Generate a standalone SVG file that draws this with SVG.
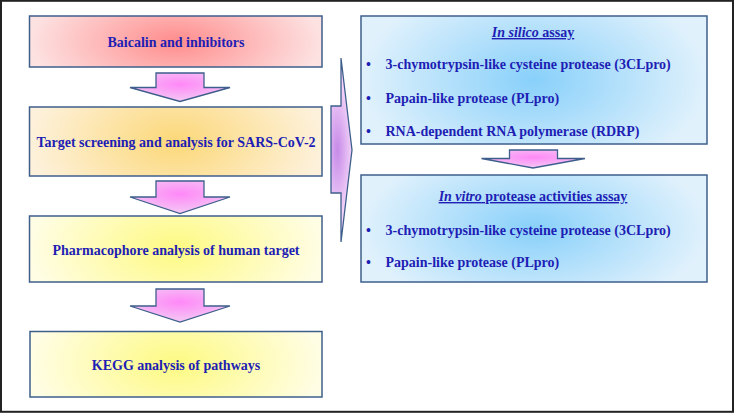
<svg xmlns="http://www.w3.org/2000/svg" width="735" height="414" viewBox="0 0 735 414">
<defs>
<radialGradient id="gPink" cx="0.5" cy="0.5" r="0.5" gradientTransform="translate(0.5 0.5) scale(1 2.5) translate(-0.5 -0.5)">
<stop offset="0" stop-color="#ff8c8c"/><stop offset="1" stop-color="#fde2e2"/></radialGradient>
<radialGradient id="gOrange" cx="0.5" cy="0.5" r="0.5" gradientTransform="translate(0.5 0.5) scale(1 2.5) translate(-0.5 -0.5)">
<stop offset="0" stop-color="#fcd878"/><stop offset="1" stop-color="#fdf1db"/></radialGradient>
<radialGradient id="gYellow" cx="0.5" cy="0.5" r="0.5" gradientTransform="translate(0.5 0.5) scale(1 2.5) translate(-0.5 -0.5)">
<stop offset="0" stop-color="#fdfa82"/><stop offset="1" stop-color="#fffde4"/></radialGradient>
<radialGradient id="gBlue" cx="0.5" cy="0.5" r="0.5" gradientTransform="translate(0.5 0.5) scale(1 1.6) translate(-0.5 -0.5)">
<stop offset="0" stop-color="#88d0fa"/><stop offset="1" stop-color="#e0f1fc"/></radialGradient>
<radialGradient id="gArrow" cx="0.5" cy="0.4" r="0.55">
<stop offset="0" stop-color="#ff88f8"/><stop offset="1" stop-color="#f4c4f4"/></radialGradient>
<radialGradient id="gSide" cx="0.3" cy="0.5" r="0.7" gradientTransform="translate(0.3 0.5) scale(1 0.5) translate(-0.3 -0.5)">
<stop offset="0" stop-color="#c68ae8"/><stop offset="1" stop-color="#f2d2f8"/></radialGradient>
</defs>
<style>
.box{stroke:#3e5f8c;stroke-width:1.5}
.arr{fill:url(#gArrow);stroke:#3e5f8c;stroke-width:1.3}
text{font-family:"Liberation Serif","Times New Roman",serif;font-weight:bold;font-size:14px;fill:#1e1eb4}
.c{text-anchor:middle}
</style>
<rect x="1" y="0.8" width="732" height="411" fill="#ffffff" stroke="#222222" stroke-width="2"/>

<g id="n_baicalin">
<rect class="box" x="29.5" y="16" width="292.5" height="51" fill="url(#gPink)"/>
<text class="c" x="176" y="47">Baicalin and inhibitors</text>
</g>
<g id="n_target">
<rect class="box" x="29.5" y="107" width="292.5" height="69" fill="url(#gOrange)"/>
<text class="c" x="176" y="147">Target screening and analysis for SARS-CoV-2</text>
</g>
<g id="n_pharma">
<rect class="box" x="29.5" y="216" width="292.5" height="66" fill="url(#gYellow)"/>
<text class="c" x="176" y="255">Pharmacophore analysis of human target</text>
</g>
<g id="n_kegg">
<rect class="box" x="30" y="331.5" width="292" height="65.5" fill="url(#gYellow)"/>
<text class="c" x="176" y="370">KEGG analysis of pathways</text>
</g>
<g id="n_insilico">
<rect class="box" x="361" y="16" width="346" height="128" fill="url(#gBlue)"/>
<text class="c" x="533" y="37" text-decoration="underline"><tspan font-style="italic">In silico</tspan> assay</text>
<text x="366" y="69">•</text><text x="385.5" y="69">3-chymotrypsin-like cysteine protease (3CLpro)</text>
<text x="366" y="103">•</text><text x="385.5" y="103">Papain-like protease (PLpro)</text>
<text x="366" y="136">•</text><text x="385.5" y="136">RNA-dependent RNA polymerase (RDRP)</text>
</g>
<g id="n_invitro">
<rect class="box" x="361" y="175" width="346" height="107" fill="url(#gBlue)"/>
<text class="c" x="533" y="201" text-decoration="underline"><tspan font-style="italic">In vitro</tspan> protease activities assay</text>
<text x="366" y="235">•</text><text x="385.5" y="235">3-chymotrypsin-like cysteine protease (3CLpro)</text>
<text x="366" y="267">•</text><text x="385.5" y="267">Papain-like protease (PLpro)</text>
</g>

<g id="connectors">
<path class="arr" d="M156,73 H204 V87.5 H230 L180,101.5 L130,87.5 H156 Z"/>
<path class="arr" d="M156,181 H204 V197 H230 L180,213.5 L130,197 H156 Z"/>
<path class="arr" d="M156,289 H204 V306 H230 L180,322 L130,306 H156 Z"/>
<path class="arr" d="M509.5,150 H557.5 V158.5 H585 L533,168 L481.5,158.5 H509.5 Z"/>
<path d="M331,106 H341 V58 L352,150 L341,242 V193 H331 Z" fill="url(#gSide)" stroke="#3e5f8c" stroke-width="1.3"/>
</g>
</svg>
